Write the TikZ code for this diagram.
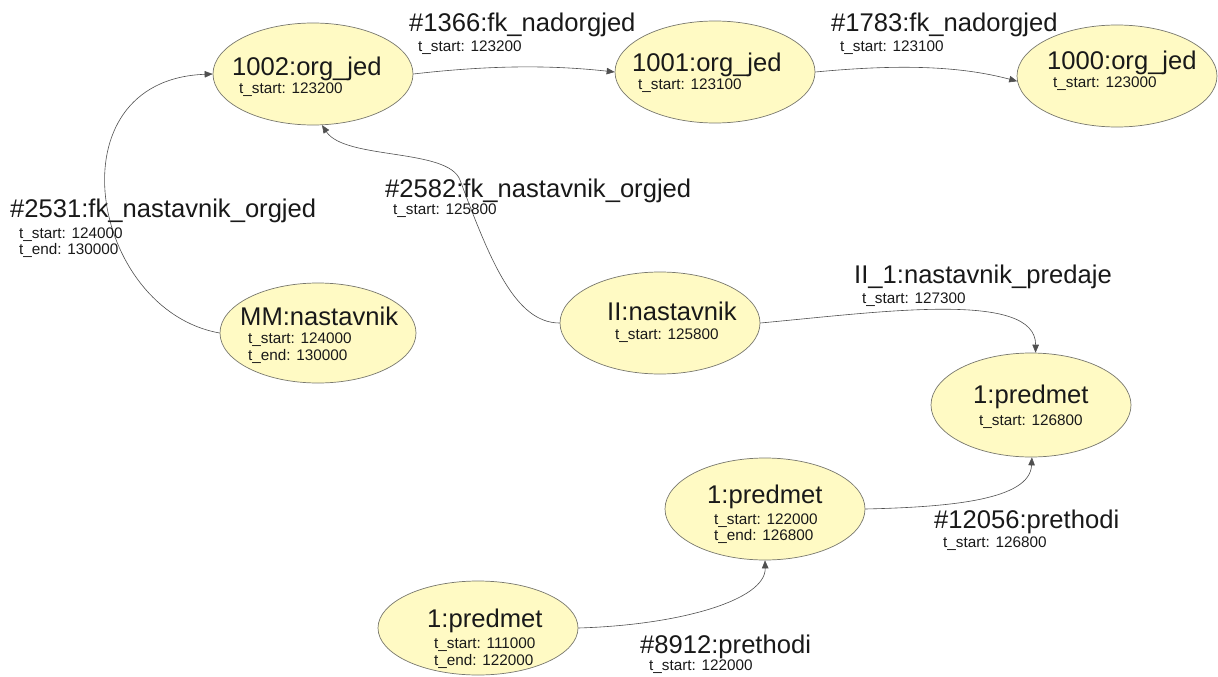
\documentclass[tikz,border=0pt]{standalone}
\usepackage{fontspec}
\setmainfont{Liberation Sans}
\usetikzlibrary{arrows.meta,shapes.geometric}
\definecolor{nodefill}{RGB}{255,250,196}
\definecolor{nodeline}{RGB}{120,120,110}
\definecolor{edgeline}{RGB}{80,80,80}
\definecolor{txt}{RGB}{25,25,25}
\tikzset{
  ent/.style={ellipse, draw=nodeline, fill=nodefill, line width=0.7pt, inner sep=0pt, minimum width=200pt, minimum height=102pt},
  big/.style={anchor=base west, inner sep=0pt, text=txt, font=\fontsize{25.6}{28}\selectfont},
  small/.style={anchor=base west, inner sep=0pt, text=txt, font=\fontsize{15.3}{17}\selectfont},
  rel/.style={draw=edgeline, line width=0.6pt, -{Triangle[length=8pt,width=6.5pt]}},
}
\begin{document}
\begin{tikzpicture}[x=1pt,y=-1pt]
\useasboundingbox[fill=white] (0,0) rectangle (1218,677);

% entity ellipses
\node[ent] (n1002) at (313,74) {};
\node[ent] (n1001) at (715,72) {};
\node[ent] (n1000) at (1117,76) {};
\node[ent, minimum width=196pt, minimum height=100pt] (nMM) at (318,333) {};
\node[ent] (nII) at (660,323) {};
\node[ent, minimum height=104pt] (nP3) at (1031,405) {};
\node[ent] (nP2) at (765,509) {};
\node[ent, minimum height=94pt] (nP1) at (478,628) {};

% entity texts
\node[big] (t1002) at (232,75) {1002:org\_jed};
\node[small] (s1002) at (239,93) {t\_start: 123200};
\node[big] (t1001) at (632,71) {1001:org\_jed};
\node[small] (s1001) at (638,89) {t\_start: 123100};
\node[big] (t1000) at (1047,70) {1000:org\_jed};
\node[small] (s1000) at (1053,88) {t\_start: 123000};
\node[big] (tMM) at (240,325) {MM:nastavnik};
\node[small] (sMMa) at (248,343) {t\_start: 124000};
\node[small] (sMMb) at (248,360) {t\_end: 130000};
\node[big] (tII) at (607,320) {II:nastavnik};
\node[small] (sII) at (615,339) {t\_start: 125800};
\node[big] (tP3) at (973,403) {1:predmet};
\node[small] (sP3) at (979,425) {t\_start: 126800};
\node[big] (tP2) at (707,503) {1:predmet};
\node[small] (sP2a) at (714,524) {t\_start: 122000};
\node[small] (sP2b) at (714,540) {t\_end: 126800};
\node[big] (tP1) at (427,627) {1:predmet};
\node[small] (sP1a) at (434,648) {t\_start: 111000};
\node[small] (sP1b) at (434,665) {t\_end: 122000};

% connectors
\draw[rel] (n1002.east) .. controls (500,64) and (560,66) .. (n1001.west);
\draw[rel] (n1001.east) .. controls (900,64) and (960,66) .. (n1000.183);
\draw[rel] (nMM.west) .. controls (90,310) and (50,80) .. (n1002.west);
\draw[rel] (nII.west) .. controls (515,323) and (490,260) .. (460,180)
           .. controls (448,148) and (345,160) .. (n1002.-80);
\draw[rel] (nII.east) .. controls (880,312) and (1036,290) .. (nP3.85);
\draw[rel] (nP2.east) .. controls (950,507) and (1030,500) .. (nP3.-89);
\draw[rel] (nP1.east) .. controls (680,625) and (766,600) .. (nP2.south);

% connector labels
\node[big] (l1366) at (409,32) {\#1366:fk\_nadorgjed};
\node[small] (l1366s) at (418,52) {t\_start: 123200};
\node[big] (l1783) at (831,32) {\#1783:fk\_nadorgjed};
\node[small] (l1783s) at (840,52) {t\_start: 123100};
\node[big] (l2531) at (10,217) {\#2531:fk\_nastavnik\_orgjed};
\node[small] (l2531a) at (19,238) {t\_start: 124000};
\node[small] (l2531b) at (19,254) {t\_end: 130000};
\node[big] (l2582) at (385,197) {\#2582:fk\_nastavnik\_orgjed};
\node[small] (l2582s) at (393,214) {t\_start: 125800};
\node[big] (lII1) at (854,283) {II\_1:nastavnik\_predaje};
\node[small] (lII1s) at (862,303) {t\_start: 127300};
\node[big] (l12056) at (934,528) {\#12056:prethodi};
\node[small] (l12056s) at (943,547) {t\_start: 126800};
\node[big] (l8912) at (640,653) {\#8912:prethodi};
\node[small] (l8912s) at (649,670) {t\_start: 122000};
\end{tikzpicture}
\end{document}
